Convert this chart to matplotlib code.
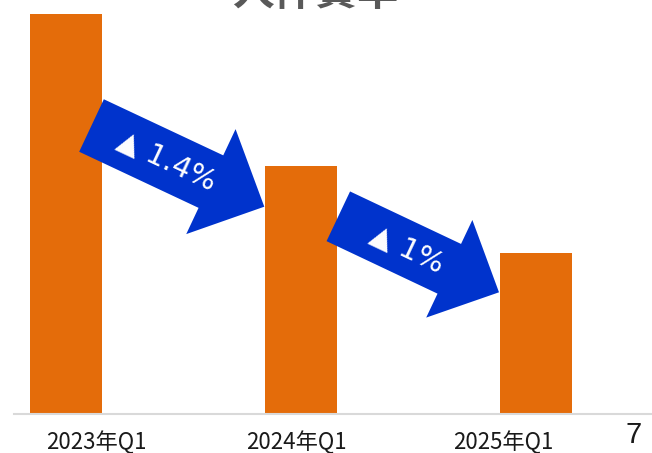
import numpy as np
import matplotlib
matplotlib.use("Agg")
import matplotlib.pyplot as plt
from matplotlib.patches import Polygon
from matplotlib.transforms import blended_transform_factory

# ---- data ----
categories = ["2023年Q1", "2024年Q1", "2025年Q1"]
values = [40.0, 24.8, 16.1]          # relative bar heights
label_offsets = [0.13, -0.02, -0.14]  # label shift relative to bar (category units)
changes = ["▲ 1.4%", "▲ 1%"]
title = "人件費率"
page_no = "7"

ORANGE = "#E46C0A"
BLUE = "#0033CC"
CJK = ["Noto Sans CJK JP", "DejaVu Sans"]

W, H, DPI = 652, 453, 100
fig = plt.figure(figsize=(W / DPI, H / DPI), dpi=DPI)

# main axes (pixel layout)
L, R, B, T = 14, 652, 414, 14
ax = fig.add_axes([L / W, (H - B) / H, (R - L) / W, (B - T) / H])
x = np.arange(len(categories))
ax.bar(x, values, width=0.31, color=ORANGE, zorder=2)
ax.set_xlim((L - 66) / 235, (R - 66) / 235)
ax.set_ylim(0, max(values))
for s in ["top", "right", "left"]:
    ax.spines[s].set_visible(False)
ax.spines["bottom"].set_color("#D9D9D9")
ax.spines["bottom"].set_linewidth(1.5)
ax.set_xticks([])
ax.set_yticks([])

trans = blended_transform_factory(ax.transData, ax.transAxes)
for xi, lab, off in zip(x, categories, label_offsets):
    ax.text(xi + off, -0.07, lab, transform=trans, ha="center", va="center",
            fontsize=16, family=CJK, color="#1a1a1a")

# overlay in pixel coordinates for annotations
ov = fig.add_axes([0, 0, 1, 1])
ov.set_xlim(0, W)
ov.set_ylim(H, 0)
ov.axis("off")


def block_arrow(tail, tip, shaft_w, head_w, head_len):
    tail = np.array(tail, float)
    tip = np.array(tip, float)
    d = tip - tail
    Ln = np.hypot(*d)
    u = d / Ln
    n = np.array([-u[1], u[0]])
    base = tip - u * head_len
    pts = [tail + n * shaft_w / 2, base + n * shaft_w / 2, base + n * head_w / 2,
           tip, base - n * head_w / 2, base - n * shaft_w / 2, tail - n * shaft_w / 2]
    return np.array(pts), u


arrows = [
    dict(tail=(91.5, 125.5), tip=(264.3, 206.7), sw=58, hw=116, hl=59, t=83),
    dict(tail=(338.3, 216.3), tip=(499.0, 292.3), sw=55, hw=108, hl=55, t=76),
]
for a, txt in zip(arrows, changes):
    pts, u = block_arrow(a["tail"], a["tip"], a["sw"], a["hw"], a["hl"])
    ov.add_patch(Polygon(pts, closed=True, facecolor=BLUE, edgecolor="none", zorder=3))
    c = np.array(a["tail"]) + u * a["t"]
    ang = -np.degrees(np.arctan2(u[1], u[0]))
    ov.text(c[0], c[1], txt, color="white", fontsize=21, family=["DejaVu Sans"],
            rotation=ang, rotation_mode="anchor", ha="center", va="center", zorder=4)

fig.text(315 / W, 1 - 5 / H, title, ha="center", va="baseline", fontsize=30,
         fontweight="bold", color="#595959", family=CJK)
fig.text(634 / W, 1 - 435 / H, page_no, ha="center", va="center", fontsize=21,
         color="#1a1a1a", family=["Liberation Sans", "DejaVu Sans"])

fig.savefig("out.png", dpi=DPI)
